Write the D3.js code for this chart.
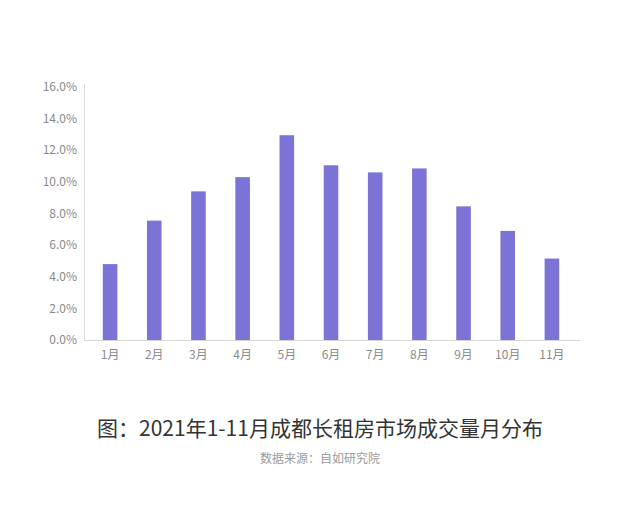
<!DOCTYPE html>
<html><head><meta charset="utf-8">
<script src="https://cdn.jsdelivr.net/npm/d3@7"></script>
<style>body{margin:0;background:#fff;} svg{display:block;}</style>
</head><body><svg id="c" width="640" height="515"></svg>
<script>
const months = ["1月","2月","3月","4月","5月","6月","7月","8月","9月","10月","11月"];
const shares = [4.8, 7.55, 9.4, 10.3, 12.95, 11.05, 10.6, 10.85, 8.45, 6.9, 5.15];
const yTicks = [0, 2, 4, 6, 8, 10, 12, 14, 16];
const titleText = "图：2021年1-11月成都长租房市场成交量月分布";
const sourceText = "数据来源：自如研究院";

const svg = d3.select("#c");
const font = "'Noto Sans CJK SC', 'Noto Sans', sans-serif";
const y = d3.scaleLinear().domain([0, 16]).range([340, 87]);
const x = d3.scaleBand().domain(months).range([88, 574]).paddingInner(0.67).paddingOuter(0.335);

// axis lines
svg.append("line").attr("x1", 84.5).attr("x2", 84.5).attr("y1", 84).attr("y2", 340)
  .attr("stroke", "#dcdcdc").attr("stroke-width", 1);
svg.append("line").attr("x1", 84).attr("x2", 580).attr("y1", 340.5).attr("y2", 340.5)
  .attr("stroke", "#d6d6d6").attr("stroke-width", 1);

// y labels
svg.append("g").selectAll("text").data(yTicks).join("text")
  .attr("x", 77).attr("y", d => y(d)).attr("dy", "0.35em")
  .attr("text-anchor", "end").attr("font-family", font).attr("font-size", 12)
  .attr("fill", "#8a8a8a").text(d => d.toFixed(1) + "%");

// bars
svg.append("g").selectAll("rect").data(shares).join("rect")
  .attr("x", (d, i) => x(months[i])).attr("width", x.bandwidth())
  .attr("y", d => y(d)).attr("height", d => y(0) - y(d))
  .attr("fill", "#7b73d5");

// x labels
svg.append("g").selectAll("text").data(months).join("text")
  .attr("x", d => x(d) + x.bandwidth() / 2).attr("y", 355).attr("dy", "0.35em")
  .attr("text-anchor", "middle").attr("font-family", font).attr("font-size", 12)
  .attr("fill", "#8a8a8a").text(d => d);

// title
svg.append("text").attr("x", 320).attr("y", 436).attr("text-anchor", "middle")
  .attr("font-family", font).attr("font-size", 21).attr("fill", "#333").text(titleText);
svg.append("text").attr("x", 320).attr("y", 463).attr("text-anchor", "middle")
  .attr("font-family", font).attr("font-size", 12).attr("fill", "#9a9a9a").text(sourceText);
</script></body></html>
